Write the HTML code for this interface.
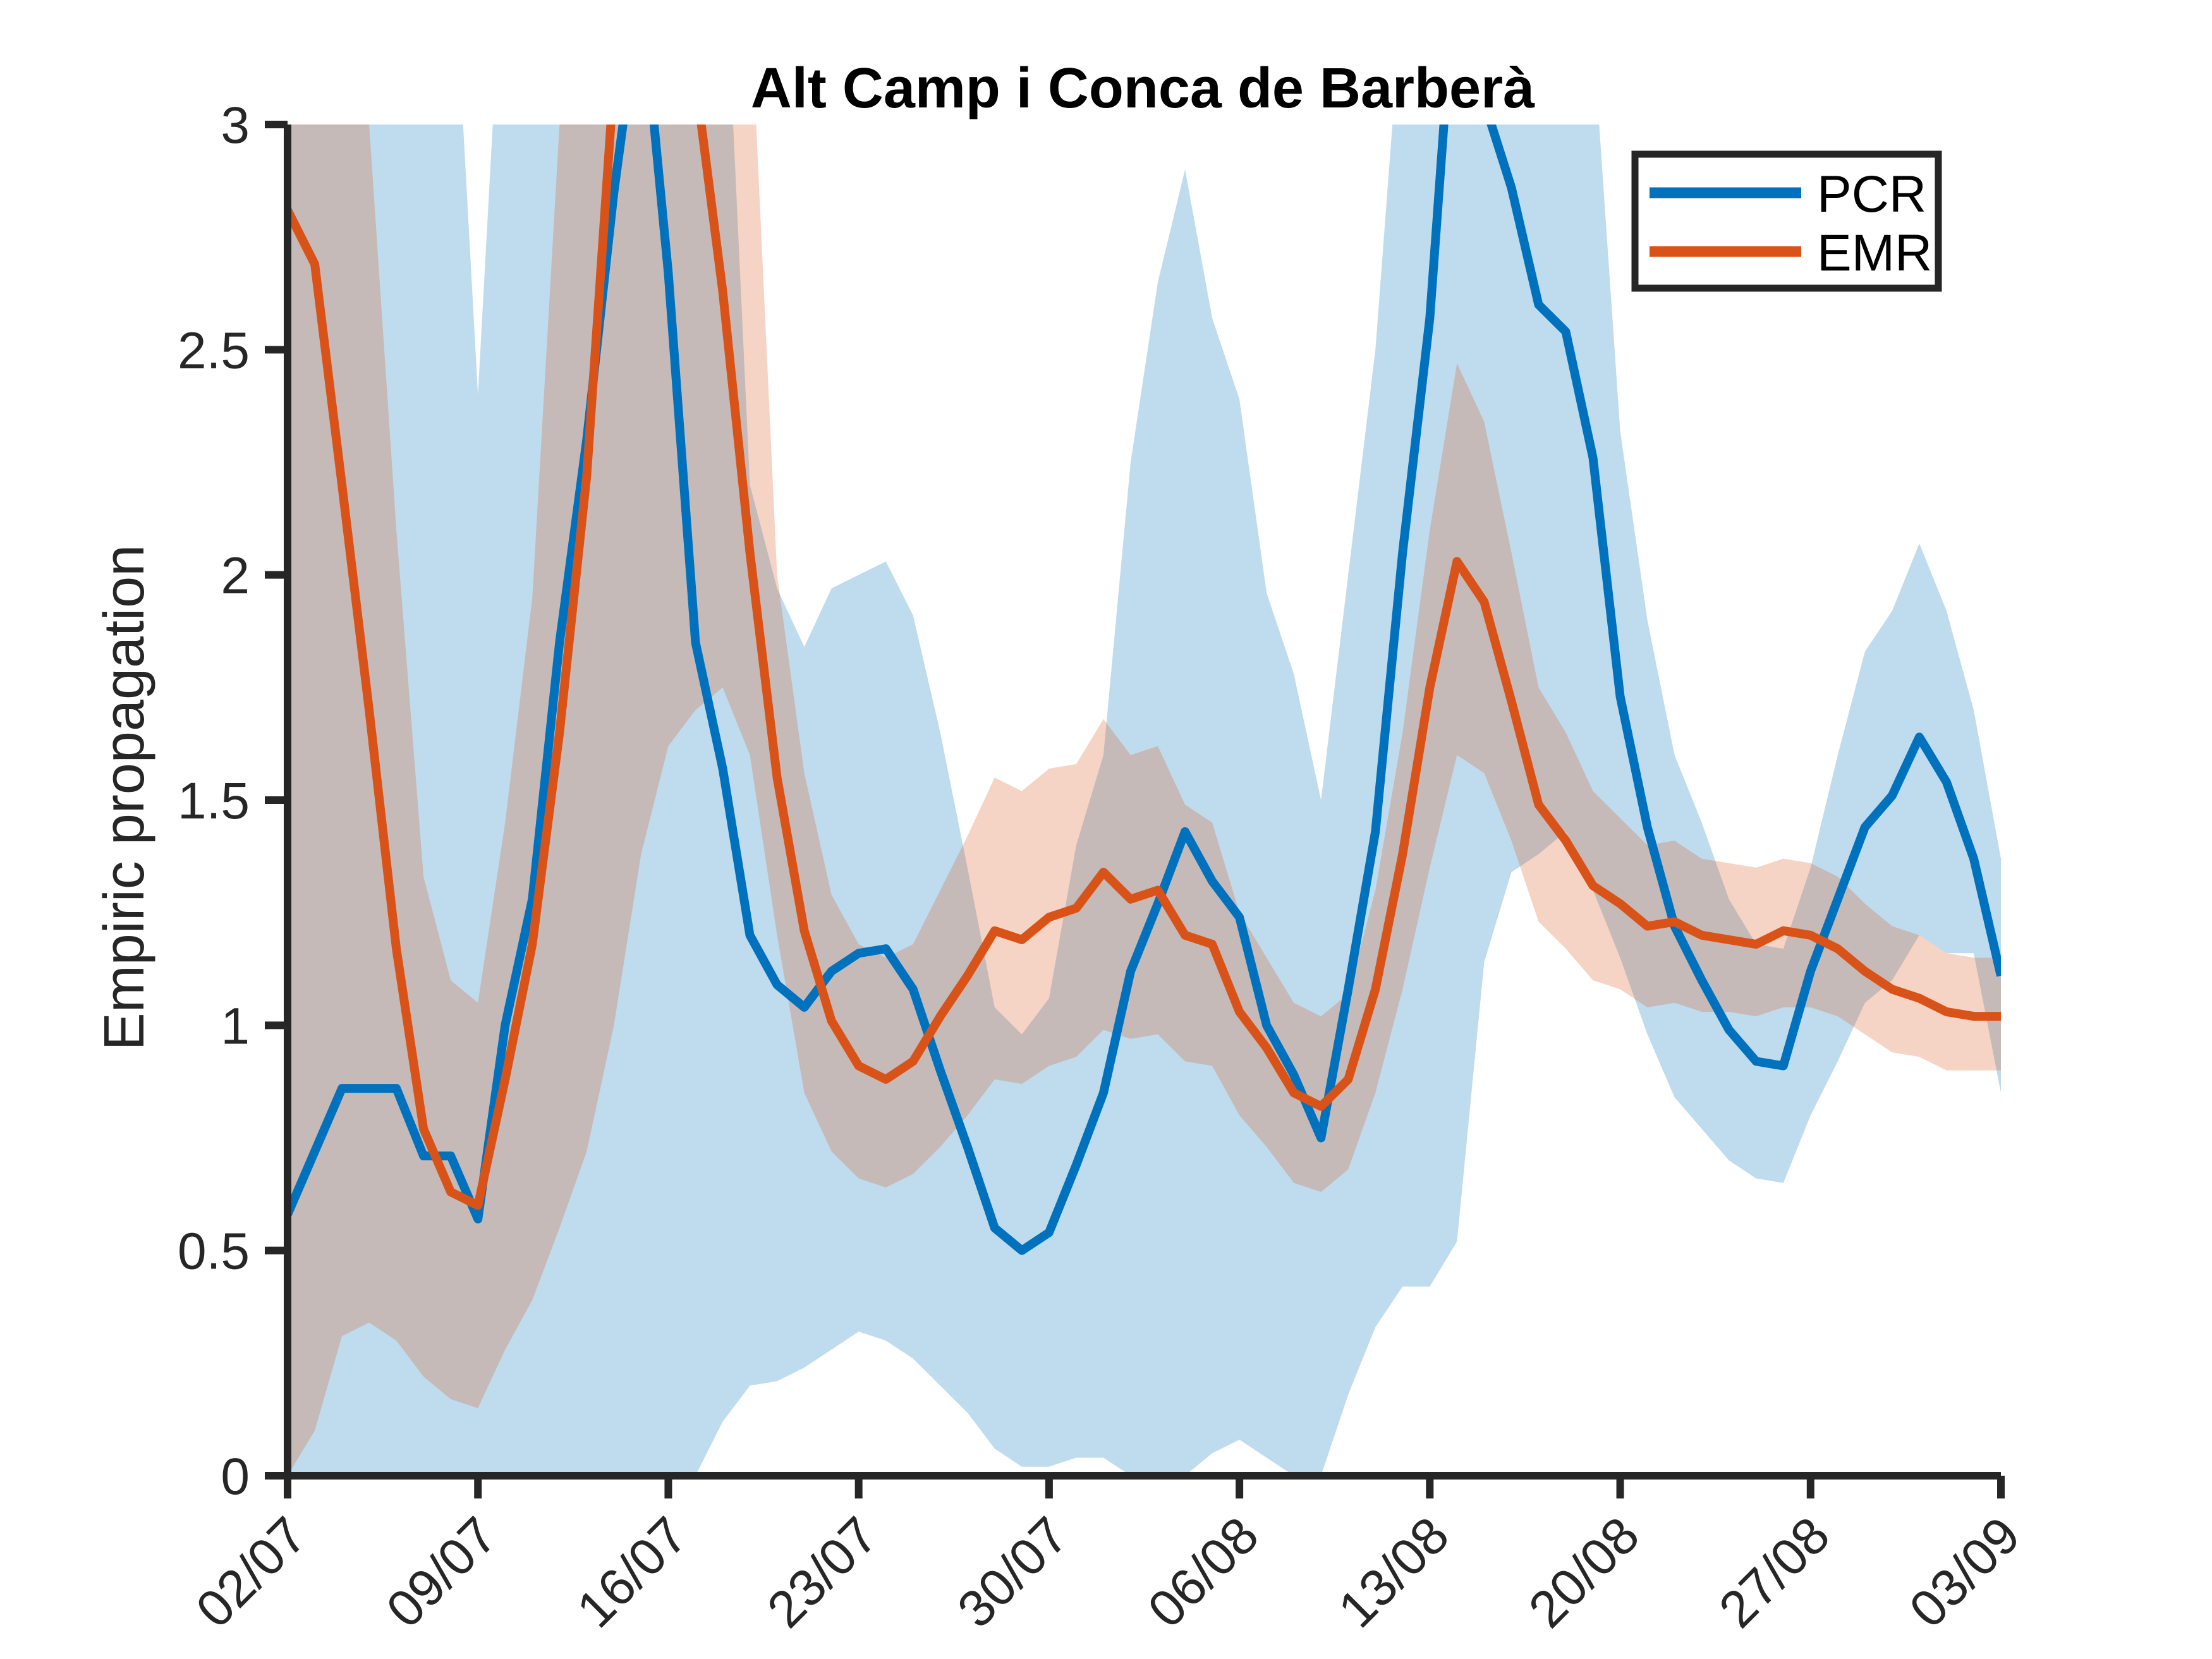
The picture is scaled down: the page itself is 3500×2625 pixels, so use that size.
<!DOCTYPE html>
<html><head><meta charset="utf-8"><style>
html,body{margin:0;padding:0;background:#fff;}
svg{display:block;font-family:"Liberation Sans",Arial,sans-serif;}
</style></head><body>
<svg id="chart" width="3500" height="2625" viewBox="0 0 3500 2625" xmlns="http://www.w3.org/2000/svg">
<defs><clipPath id="plotclip"><rect x="455" y="197" width="2711" height="2138"/></clipPath></defs>
<rect width="3500" height="2625" fill="#fff"/>
<g id="bands" clip-path="url(#plotclip)"></g>
<g id="lines" clip-path="url(#plotclip)"></g>
<g id="axes"></g>
<text x="1808" y="170" font-size="90" font-weight="bold" text-anchor="middle" fill="#000">Alt Camp i Conca de Barberà</text>
<text transform="translate(227,1262) rotate(-90)" font-size="90" text-anchor="middle" fill="#262626">Empiric propagation</text>
<g>
<rect x="2587" y="244" width="480" height="212" fill="#fff" stroke="#262626" stroke-width="11"/>
<line x1="2610" y1="305" x2="2850" y2="305" stroke="#0072BD" stroke-width="17"/>
<text x="2875" y="335" font-size="82" fill="#000">PCR</text>
<line x1="2610" y1="398" x2="2850" y2="398" stroke="#D95319" stroke-width="17"/>
<text x="2875" y="428" font-size="82" fill="#000">EMR</text>
</g>
</svg>
<script>
const pcrValues=[0.58,0.72,0.86,0.86,0.86,0.71,0.71,0.57,1.0,1.28,1.85,2.3,2.85,3.3,2.67,1.85,1.57,1.2,1.09,1.04,1.12,1.16,1.17,1.08,0.9,0.73,0.55,0.5,0.54,0.69,0.85,1.12,1.27,1.43,1.32,1.24,1.0,0.89,0.75,1.08,1.43,2.05,2.57,3.4,3.05,2.86,2.6,2.54,2.26,1.73,1.44,1.22,1.1,0.99,0.92,0.91,1.12,1.28,1.44,1.51,1.64,1.54,1.37,1.11];
const pcrUpper=[5,5,5,5,5,5,3.5,2.4,3.5,5,5,5,5,5,5,5,3.5,2.2,1.97,1.84,1.97,2.0,2.03,1.91,1.65,1.35,1.04,0.98,1.06,1.4,1.6,2.25,2.65,2.9,2.57,2.39,1.96,1.78,1.5,2.0,2.5,3.3,5,5,5,5,5,5,3.2,2.32,1.9,1.6,1.45,1.28,1.18,1.17,1.35,1.6,1.83,1.92,2.07,1.92,1.7,1.37];
const pcrLower=[0,0,0,0,0,0,0,0,0,0,0,0,0,0,0,0,0.12,0.2,0.21,0.24,0.28,0.32,0.3,0.26,0.2,0.14,0.06,0.02,0.02,0.04,0.04,0,0,0,0.05,0.08,0.04,0,0,0.18,0.33,0.42,0.42,0.52,1.14,1.34,1.38,1.43,1.3,1.15,0.98,0.84,0.77,0.7,0.66,0.65,0.8,0.92,1.05,1.1,1.2,1.16,1.16,0.85];
const emrValues=[2.81,2.69,2.2,1.7,1.17,0.77,0.63,0.6,0.88,1.18,1.65,2.22,3.1,3.5,3.4,3.1,2.63,2.05,1.55,1.21,1.01,0.91,0.88,0.92,1.02,1.11,1.21,1.19,1.24,1.26,1.34,1.28,1.3,1.2,1.18,1.03,0.95,0.85,0.82,0.88,1.08,1.38,1.75,2.03,1.94,1.72,1.49,1.41,1.31,1.27,1.22,1.23,1.2,1.19,1.18,1.21,1.2,1.17,1.12,1.08,1.06,1.03,1.02,1.02];
const emrUpper=[5,5,5,3,2.1,1.33,1.1,1.05,1.45,1.95,3.0,5,5,5,5,5,5,3.3,2.0,1.56,1.29,1.18,1.15,1.18,1.3,1.42,1.55,1.52,1.57,1.58,1.68,1.6,1.62,1.49,1.45,1.25,1.15,1.05,1.02,1.07,1.3,1.65,2.1,2.47,2.34,2.05,1.75,1.65,1.52,1.46,1.4,1.41,1.37,1.36,1.35,1.37,1.36,1.33,1.27,1.22,1.2,1.16,1.15,1.15];
const emrLower=[0,0.1,0.31,0.34,0.3,0.22,0.17,0.15,0.28,0.39,0.55,0.72,1.0,1.38,1.62,1.7,1.75,1.6,1.2,0.85,0.72,0.66,0.64,0.67,0.73,0.8,0.88,0.87,0.91,0.93,0.99,0.97,0.98,0.92,0.91,0.8,0.73,0.65,0.63,0.68,0.85,1.08,1.35,1.6,1.56,1.41,1.23,1.17,1.1,1.08,1.04,1.05,1.03,1.03,1.02,1.04,1.04,1.02,0.98,0.94,0.93,0.9,0.9,0.9];
const xTickLabels=["02/07","09/07","16/07","23/07","30/07","06/08","13/08","20/08","27/08","03/09"];
const yTickValues=[0,0.5,1,1.5,2,2.5,3];
const yTickLabels=["0","0.5","1","1.5","2","2.5","3"];

const X0=455,X1=3166,Y0=2335,Y1=197,N=pcrValues.length;
const xs=i=>X0+(X1-X0)*i/(N-1);
const ys=v=>Y0-(Y0-Y1)*v/3;
const NS="http://www.w3.org/2000/svg";
function band(up,lo,color,name){
  let d="M"+up.map((v,i)=>xs(i)+","+ys(v)).join("L");
  for(let i=lo.length-1;i>=0;i--) d+="L"+xs(i)+","+ys(lo[i]);
  const p=document.createElementNS(NS,"path");
  p.setAttribute("d",d+"Z");p.setAttribute("fill",color);p.setAttribute("fill-opacity","0.25");
  
  
  document.getElementById("bands").appendChild(p);
}
function line(vals,color,name){
  const p=document.createElementNS(NS,"polyline");
  p.setAttribute("points",vals.map((v,i)=>xs(i)+","+ys(v)).join(" "));
  p.setAttribute("fill","none");p.setAttribute("stroke",color);p.setAttribute("stroke-width","14");p.setAttribute("stroke-linejoin","round");
  
  
  document.getElementById("lines").appendChild(p);
}
band(pcrUpper,pcrLower,"#0072BD","pcr-confidence-band");
band(emrUpper,emrLower,"#D95319","emr-confidence-band");
line(pcrValues,"#0072BD","pcr-line");
line(emrValues,"#D95319","emr-line");
const ax=document.getElementById("axes");
let h='<path d="M'+X0+','+Y1+'V'+Y0+'H'+X1+'" fill="none" stroke="#262626" stroke-width="12"/>';
yTickValues.forEach((v,k)=>{const y=ys(v);
  h+='<line x1="'+(X0-36)+'" y1="'+y+'" x2="'+X0+'" y2="'+y+'" stroke="#262626" stroke-width="12"/>';
  h+='<text x="'+(X0-60)+'" y="'+(y+29)+'" font-size="82" text-anchor="end" fill="#262626">'+yTickLabels[k]+'</text>';});
xTickLabels.forEach((l,k)=>{const x=xs(k*7);
  h+='<line x1="'+x+'" y1="'+Y0+'" x2="'+x+'" y2="'+(Y0+36)+'" stroke="#262626" stroke-width="12"/>';
  h+='<text transform="translate('+(x+35)+','+(Y0+100)+') rotate(-45)" font-size="82" text-anchor="end" fill="#262626">'+l+'</text>';});
ax.innerHTML=h;
ax.querySelectorAll("line").forEach(e=>{
  
  
});
ax.querySelectorAll("text").forEach(e=>{
  
  
});
</script>
</body></html>
